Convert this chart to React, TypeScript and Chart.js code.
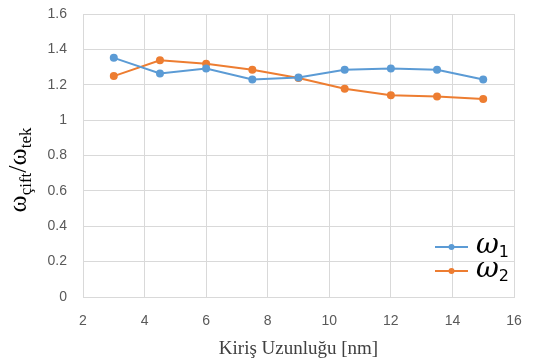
import React, { useEffect, useRef } from "react";
import { Chart, registerables } from "chart.js";

Chart.register(...registerables);

const xValues = [3, 4.5, 6, 7.5, 9, 10.5, 12, 13.5, 15];
const omega1 = [1.352, 1.264, 1.292, 1.23, 1.241, 1.285, 1.292, 1.285, 1.23];
const omega2 = [1.249, 1.338, 1.319, 1.285, 1.238, 1.177, 1.14, 1.134, 1.119];
const seriesNames = ["1", "2"];
const seriesColors = ["#5B9BD5", "#ED7D31"];
const xTitle = "Kiriş Uzunluğu [nm]";

const TICK_COLOR = "#595959";
const GRID = "#d9d9d9";

const titlesPlugin = {
  id: "customTitles",
  afterDraw(chart: any) {
    const ctx = chart.ctx as CanvasRenderingContext2D;
    const area = chart.chartArea;
    ctx.save();
    // X title
    ctx.fillStyle = "#404040";
    ctx.font = '19px "Liberation Serif"';
    ctx.textAlign = "center";
    ctx.textBaseline = "alphabetic";
    ctx.fillText(xTitle, (area.left + area.right) / 2, 354);

    // Y title with subscripts
    const parts: [string, string, number][] = [
      ["ω", '26px "Liberation Serif"', 0],
      ["çift", '17px "Liberation Serif"', 5],
      ["/", '26px "Liberation Serif"', 0],
      ["ω", '26px "Liberation Serif"', 0],
      ["tek", '17px "Liberation Serif"', 5],
    ];
    let total = 0;
    const widths: number[] = [];
    for (const [t, f] of parts) {
      ctx.font = f;
      const w = ctx.measureText(t).width;
      widths.push(w);
      total += w;
    }
    ctx.fillStyle = "#000";
    ctx.translate(26, 170);
    ctx.rotate(-Math.PI / 2);
    ctx.textAlign = "left";
    let x = -total / 2;
    parts.forEach(([t, f, dy], i) => {
      ctx.font = f;
      ctx.fillText(t, x, dy);
      x += widths[i];
    });
    ctx.restore();

    // Legend
    ctx.save();
    const lx0 = 435;
    const lx1 = 468;
    const ys = [247, 271];
    seriesNames.forEach((name, i) => {
      const y = ys[i];
      ctx.strokeStyle = seriesColors[i];
      ctx.lineWidth = 2;
      ctx.beginPath();
      ctx.moveTo(lx0, y);
      ctx.lineTo(lx1, y);
      ctx.stroke();
      ctx.fillStyle = seriesColors[i];
      ctx.beginPath();
      ctx.arc((lx0 + lx1) / 2, y, 3, 0, Math.PI * 2);
      ctx.fill();
      ctx.fillStyle = "#000";
      ctx.textAlign = "left";
      ctx.textBaseline = "alphabetic";
      ctx.font = 'italic 28px "DejaVu Serif"';
      ctx.fillText("ω", 476, y + 6);
      const w = ctx.measureText("ω").width;
      ctx.font = '16px "DejaVu Sans"';
      ctx.fillText(name, 476 + w, y + 10);
    });
    ctx.restore();
  },
};

export default function App() {
  const ref = useRef<HTMLCanvasElement>(null);
  useEffect(() => {
    if (!ref.current) return;
    const chart = new Chart(ref.current, {
      type: "line",
      data: {
        datasets: [
          {
            label: "ω1",
            data: xValues.map((x, i) => ({ x, y: omega1[i] })),
            borderColor: seriesColors[0],
            backgroundColor: seriesColors[0],
            borderWidth: 2,
            pointRadius: 4,
            pointHoverRadius: 4,
            pointBorderWidth: 0,
          },
          {
            label: "ω2",
            data: xValues.map((x, i) => ({ x, y: omega2[i] })),
            borderColor: seriesColors[1],
            backgroundColor: seriesColors[1],
            borderWidth: 2,
            pointRadius: 4,
            pointHoverRadius: 4,
            pointBorderWidth: 0,
          },
        ],
      },
      options: {
        animation: false,
        responsive: false,
        layout: { padding: { left: 0, right: 31, top: 14, bottom: 0 } },
        plugins: { legend: { display: false }, tooltip: { enabled: false } },
        scales: {
          x: {
            type: "linear",
            min: 2,
            max: 16,
            ticks: {
              stepSize: 2,
              color: TICK_COLOR,
              font: { family: "Liberation Sans", size: 14 },
              padding: 16,
            },
            grid: { color: GRID, lineWidth: 1, drawTicks: false },
            border: { color: GRID },
            afterFit(scale: any) {
              scale.height = 66;
              scale.paddingLeft = 0;
              scale.paddingRight = 0;
            },
          },
          y: {
            min: 0,
            max: 1.6,
            ticks: {
              stepSize: 0.2,
              color: TICK_COLOR,
              font: { family: "Liberation Sans", size: 14 },
              padding: 16,
              callback: (v: any) => String(Math.round(Number(v) * 10) / 10),
            },
            grid: { color: GRID, lineWidth: 1, drawTicks: false },
            border: { color: GRID },
            afterFit(scale: any) {
              scale.width = 83;
              scale.paddingTop = 0;
              scale.paddingBottom = 0;
            },
          },
        },
      },
      plugins: [titlesPlugin],
    });
    return () => chart.destroy();
  }, []);
  return (
    <div style={{ position: "fixed", left: 0, top: 0, width: 545, height: 363, background: "#fff" }}>
      <canvas ref={ref} width={545} height={363} style={{ width: 545, height: 363 }} />
    </div>
  );
}
